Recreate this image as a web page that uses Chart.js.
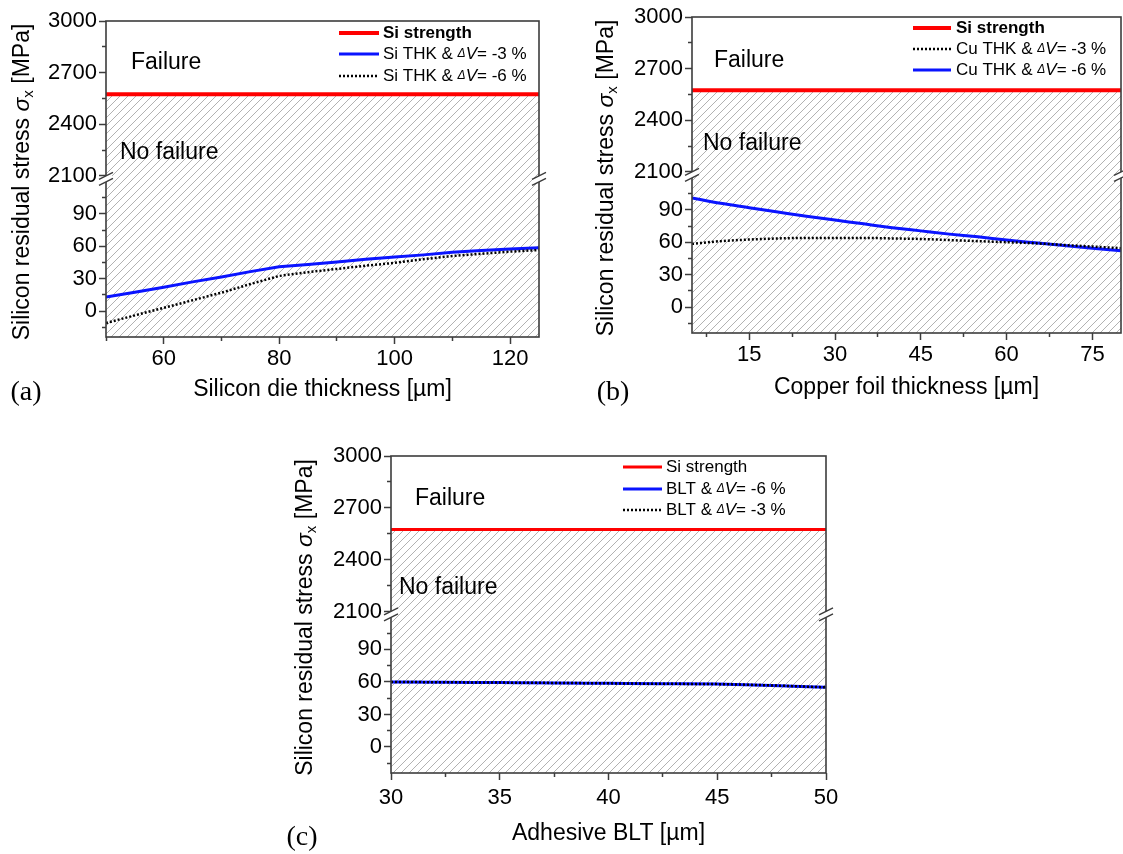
<!DOCTYPE html>
<html>
<head>
<meta charset="utf-8">
<script src="https://cdn.jsdelivr.net/npm/chart.js@4.4.1/dist/chart.umd.min.js"></script>
<style>
  body { margin: 0; background: #fff; }
  #page { position: relative; width: 1123px; height: 854px; overflow: hidden; background: #fff; }
  #page canvas { position: absolute; }
</style>
</head>
<body>
<div id="page">
  <canvas id="chartA"></canvas>
  <canvas id="chartB"></canvas>
  <canvas id="chartC"></canvas>
</div>
<script>
// Si fracture strength [MPa]
const SI_STRENGTH = 2575

// (a) silicon die thickness sweep
const dieThk = [50, 55, 60, 65, 70, 75, 80, 85, 90, 95, 100, 105, 110, 115, 120, 125]
const dieStressDv3 = [13, 17.5, 22, 27, 31.5, 36.5, 41, 43, 45.5, 48, 50, 52, 54.5, 56, 57.5, 58.5]
const dieStressDv6 = [-11, -4, 3, 10, 17, 25, 32.5, 36, 39, 42, 44.6, 48, 51, 53, 55, 56.5]
const dieTicks = [50, 60, 70, 80, 90, 100, 110, 120]
const dieLabels = [60, 80, 100, 120]

// (b) copper foil thickness sweep
const cuThk = [5, 10, 15, 20, 25, 30, 35, 40, 45, 50, 55, 60, 65, 70, 75, 80]
const cuStressDv3 = [58.5, 61, 62.5, 63.5, 64, 64, 64, 63.5, 63, 62, 61, 60, 59, 57.5, 56, 54.5]
const cuStressDv6 = [101, 96, 92, 88, 84, 80.5, 77, 73.5, 70.5, 67.5, 65, 62, 59.5, 57, 54.5, 52]
const cuTicks = [7.5, 15, 22.5, 30, 37.5, 45, 52.5, 60, 67.5, 75]
const cuLabels = [15, 30, 45, 60, 75]

// (c) adhesive bond line thickness sweep
const blt = [30, 32.5, 35, 37.5, 40, 42.5, 45, 47.5, 50]
const bltStressDv6 = [60, 59.7, 59.4, 59.1, 58.7, 58.3, 58, 56.8, 55]
const bltStressDv3 = [60, 59.7, 59.4, 59.1, 58.7, 58.3, 58, 56.8, 55]
const bltTicks = [30, 32.5, 35, 37.5, 40, 42.5, 45, 47.5, 50]
const bltLabels = [30, 35, 40, 45, 50]

// broken y axis: upper part and lower part
const upperTicks = [2100, 2250, 2400, 2550, 2700, 2850, 3000]
const upperLabels = [2100, 2400, 2700, 3000]
const lowerTicks = [-15, 0, 15, 30, 45, 60, 75, 90, 105]
const lowerLabels = [0, 30, 60, 90]

const FONT = 'Liberation Sans, Arial, sans-serif'
const AXIS = '#3c3c3c'
const RED = '#ff0000'
const BLUE = '#0a14ff'

Chart.defaults.font.family = FONT
Chart.defaults.color = '#000'

// dotted curves are drawn on top (lower order = drawn last)
const solid = { borderColor: BLUE, borderWidth: 3, borderDash: [], order: 2 }
const dotted = { borderColor: '#000', borderWidth: 2.5, borderDash: [2, 2], order: 1 }

const panels = [
    {
        id: 'chartA', left: 0, top: 0, width: 561, height: 420,
        area: { left: 106, top: 21, right: 539, bottom: 337 },
        xMin: 50, xMax: 125, xTicks: dieTicks, xLabels: dieLabels,
        xTitle: 'Silicon die thickness [µm]', xTickPad: 2, xAxisH: 66,
        yTitleX: 23, letter: '(a)', letterPos: [26, 393],
        failure: [131, 63], noFailure: [120, 153],
        legend: { lineX: 339, lineW: 40, textX: 383, rows: [33, 54, 76], bold: true },
        tension: 0,
        series: [
            { label: 'Si THK & ΔV= -3 %', x: dieThk, y: dieStressDv3, style: solid },
            { label: 'Si THK & ΔV= -6 %', x: dieThk, y: dieStressDv6, style: dotted }
        ]
    },
    {
        id: 'chartB', left: 561, top: 0, width: 562, height: 420,
        area: { left: 692, top: 17, right: 1121, bottom: 333 },
        xMin: 5, xMax: 80, xTicks: cuTicks, xLabels: cuLabels,
        xTitle: 'Copper foil thickness [µm]', xTickPad: 2, xAxisH: 68,
        yTitleX: 607, letter: '(b)', letterPos: [613, 393],
        failure: [714, 61], noFailure: [703, 144],
        legend: { lineX: 913, lineW: 38, textX: 956, rows: [28, 49, 70], bold: true },
        tension: 0.3,
        series: [
            { label: 'Cu THK & ΔV= -3 %', x: cuThk, y: cuStressDv3, style: dotted },
            { label: 'Cu THK & ΔV= -6 %', x: cuThk, y: cuStressDv6, style: solid }
        ]
    },
    {
        id: 'chartC', left: 280, top: 430, width: 600, height: 424,
        area: { left: 391, top: 456, right: 826, bottom: 773 },
        xMin: 30, xMax: 50, xTicks: bltTicks, xLabels: bltLabels,
        xTitle: 'Adhesive BLT [µm]', xTickPad: 5, xAxisH: 74,
        yTitleX: 306, letter: '(c)', letterPos: [302, 838],
        failure: [415, 499], noFailure: [399, 588],
        legend: { lineX: 623, lineW: 39, textX: 666, rows: [467, 489, 510], bold: false },
        tension: 0.3, redWidth: 3,
        series: [
            { label: 'BLT & ΔV= -6 %', x: blt, y: bltStressDv6, style: solid },
            { label: 'BLT & ΔV= -3 %', x: blt, y: bltStressDv3, style: dotted }
        ]
    }
]

const Y_AXIS_W = 80
const UPPER_WEIGHT = 154.5
const LOWER_WEIGHT = 160.5

function hatchPattern() {
    const size = 8
    const c = document.createElement('canvas')
    c.width = size
    c.height = size
    const g = c.getContext('2d')
    g.strokeStyle = '#b2b2b2'
    g.lineWidth = 1
    g.beginPath()
    g.moveTo(0, size)
    g.lineTo(size, 0)
    g.moveTo(-1, 1)
    g.lineTo(1, -1)
    g.moveTo(size - 1, size + 1)
    g.lineTo(size + 1, size - 1)
    g.stroke()
    return g.createPattern(c, 'repeat')
}

// draws text pieces one after another, each with its own font
function drawPieces(ctx, pieces, x, y) {
    let cx = x
    pieces.forEach(pc => {
        ctx.font = pc.font
        ctx.fillText(pc.text, cx, y + (pc.dy || 0))
        cx += ctx.measureText(pc.text).width
    })
}

function piecesWidth(ctx, pieces) {
    let w = 0
    pieces.forEach(pc => {
        ctx.font = pc.font
        w += ctx.measureText(pc.text).width
    })
    return w
}

function legendPieces(label, bold) {
    const parts = label.split('ΔV')
    if (parts.length < 2) {
        return [{ text: label, font: (bold ? 'bold ' : '') + '17px ' + FONT }]
    }
    return [
        { text: parts[0], font: '17px ' + FONT },
        { text: 'Δ', font: 'italic 12px ' + FONT },
        { text: 'V', font: 'italic 17px ' + FONT },
        { text: parts[1], font: '17px ' + FONT }
    ]
}

function decorPlugin(p) {
    const ox = p.left
    const oy = p.top
    return {
        id: 'decor',
        beforeDatasetsDraw(chart) {
            const ctx = chart.ctx
            const area = chart.chartArea
            const yTop = chart.scales.yHigh.getPixelForValue(SI_STRENGTH)
            ctx.save()
            ctx.fillStyle = hatchPattern()
            ctx.fillRect(area.left, yTop, area.right - area.left, area.bottom - yTop)
            ctx.restore()
        },
        afterDatasetsDraw(chart) {
            const ctx = chart.ctx
            const area = chart.chartArea
            ctx.save()
            // frame
            ctx.strokeStyle = AXIS
            ctx.lineWidth = 1.6
            ctx.strokeRect(area.left, area.top, area.right - area.left, area.bottom - area.top)

            // axis break marks on both sides
            const yb = chart.scales.yHigh.bottom + 3
            ;[area.left, area.right].forEach(x0 => {
                ctx.fillStyle = '#fff'
                ctx.beginPath()
                ctx.moveTo(x0 - 6, yb)
                ctx.lineTo(x0 + 6, yb - 6)
                ctx.lineTo(x0 + 6, yb)
                ctx.lineTo(x0 - 6, yb + 6)
                ctx.closePath()
                ctx.fill()
                ctx.beginPath()
                ctx.moveTo(x0 - 7, yb + 0.5)
                ctx.lineTo(x0 + 7, yb - 6.5)
                ctx.moveTo(x0 - 7, yb + 6.5)
                ctx.lineTo(x0 + 7, yb - 0.5)
                ctx.lineWidth = 1.4
                ctx.stroke()
            })

            // region names
            ctx.fillStyle = '#000'
            ctx.textBaseline = 'middle'
            ctx.textAlign = 'left'
            ctx.font = '23px ' + FONT
            ctx.fillText('Failure', p.failure[0] - ox, p.failure[1] - oy)
            ctx.fillText('No failure', p.noFailure[0] - ox, p.noFailure[1] - oy)

            // legend
            const lg = p.legend
            chart.data.datasets.forEach((ds, i) => {
                const y = lg.rows[i] - oy
                ctx.strokeStyle = ds.borderColor
                ctx.lineWidth = ds.borderWidth
                ctx.setLineDash(ds.borderDash || [])
                ctx.beginPath()
                ctx.moveTo(lg.lineX - ox, y)
                ctx.lineTo(lg.lineX + lg.lineW - ox, y)
                ctx.stroke()
                ctx.setLineDash([])
                ctx.fillStyle = '#000'
                drawPieces(ctx, legendPieces(ds.label, lg.bold), lg.textX - ox, y)
            })

            // y axis title, rotated, sigma with subscript x
            const yTitle = [
                { text: 'Silicon residual stress ', font: '23px ' + FONT },
                { text: 'σ', font: 'italic 23px ' + FONT },
                { text: 'x', font: '15px ' + FONT, dy: 6 },
                { text: ' [MPa]', font: '23px ' + FONT }
            ]
            ctx.save()
            ctx.translate(p.yTitleX - ox, (area.top + area.bottom) / 2 + 3)
            ctx.rotate(-Math.PI / 2)
            drawPieces(ctx, yTitle, -piecesWidth(ctx, yTitle) / 2, 0)
            ctx.restore()

            // panel letter
            ctx.font = '28px Liberation Serif, Times New Roman, serif'
            ctx.textAlign = 'center'
            ctx.fillText(p.letter, p.letterPos[0] - ox, p.letterPos[1] - oy)
            ctx.restore()
        }
    }
}

function yScale(ticksArr, labelsArr, min, max, weight) {
    return {
        type: 'linear',
        position: 'left',
        stack: 'y',
        stackWeight: weight,
        min: min,
        max: max,
        afterBuildTicks: s => { s.ticks = ticksArr.map(v => ({ value: v })) },
        afterFit: s => { s.width = Y_AXIS_W },
        ticks: {
            autoSkip: false,
            padding: 2,
            font: { size: 22 },
            color: '#000',
            callback: v => labelsArr.includes(v) ? String(v) : ''
        },
        grid: {
            drawOnChartArea: false,
            tickLength: 7,
            tickWidth: 1.5,
            tickColor: AXIS,
            tickBorderDash: ctx => labelsArr.includes(ctx.tick.value) ? [] : [0, 3, 4, 20]
        },
        border: { display: false }
    }
}

function buildChart(p) {
    const canvas = document.getElementById(p.id)
    canvas.width = p.width
    canvas.height = p.height
    canvas.style.left = p.left + 'px'
    canvas.style.top = p.top + 'px'

    const a = p.area
    const datasets = [{
        label: 'Si strength',
        data: [{ x: p.xMin, y: SI_STRENGTH }, { x: p.xMax, y: SI_STRENGTH }],
        yAxisID: 'yHigh',
        borderColor: RED,
        borderWidth: p.redWidth || 4,
        borderDash: [],
        order: 0
    }]
    p.series.forEach(s => {
        datasets.push({
            label: s.label,
            data: s.x.map((x, i) => ({ x: x, y: s.y[i] })),
            yAxisID: 'yLow',
            borderColor: s.style.borderColor,
            borderWidth: s.style.borderWidth,
            borderDash: s.style.borderDash,
            borderCapStyle: 'butt',
            order: s.style.order,
            tension: p.tension,
            cubicInterpolationMode: p.tension ? 'monotone' : 'default'
        })
    })

    return new Chart(canvas, {
        type: 'line',
        data: { datasets: datasets },
        options: {
            responsive: false,
            animation: false,
            events: [],
            elements: { point: { radius: 0 } },
            layout: {
                padding: {
                    left: a.left - p.left - Y_AXIS_W,
                    top: a.top - p.top,
                    right: p.left + p.width - a.right,
                    bottom: p.top + p.height - a.bottom - p.xAxisH
                }
            },
            plugins: { legend: { display: false }, tooltip: { enabled: false } },
            scales: {
                x: {
                    type: 'linear',
                    min: p.xMin,
                    max: p.xMax,
                    afterBuildTicks: s => { s.ticks = p.xTicks.map(v => ({ value: v })) },
                    afterFit: s => { s.height = p.xAxisH },
                    ticks: {
                        autoSkip: false,
                        maxRotation: 0,
                        padding: p.xTickPad,
                        font: { size: 22 },
                        color: '#000',
                        callback: v => p.xLabels.includes(v) ? String(v) : ''
                    },
                    grid: {
                        drawOnChartArea: false,
                        tickLength: 7,
                        tickWidth: 1.5,
                        tickColor: AXIS,
                        tickBorderDash: ctx => p.xLabels.includes(ctx.tick.value) ? [] : [4, 20]
                    },
                    border: { display: false },
                    title: {
                        display: true,
                        text: p.xTitle,
                        font: { size: 23 },
                        color: '#000',
                        padding: 0
                    }
                },
                yLow: yScale(lowerTicks, lowerLabels, -24, 125, LOWER_WEIGHT),
                yHigh: yScale(upperTicks, upperLabels, 2100, 3000, UPPER_WEIGHT)
            }
        },
        plugins: [decorPlugin(p)]
    })
}

panels.forEach(buildChart)
</script>
</body>
</html>
